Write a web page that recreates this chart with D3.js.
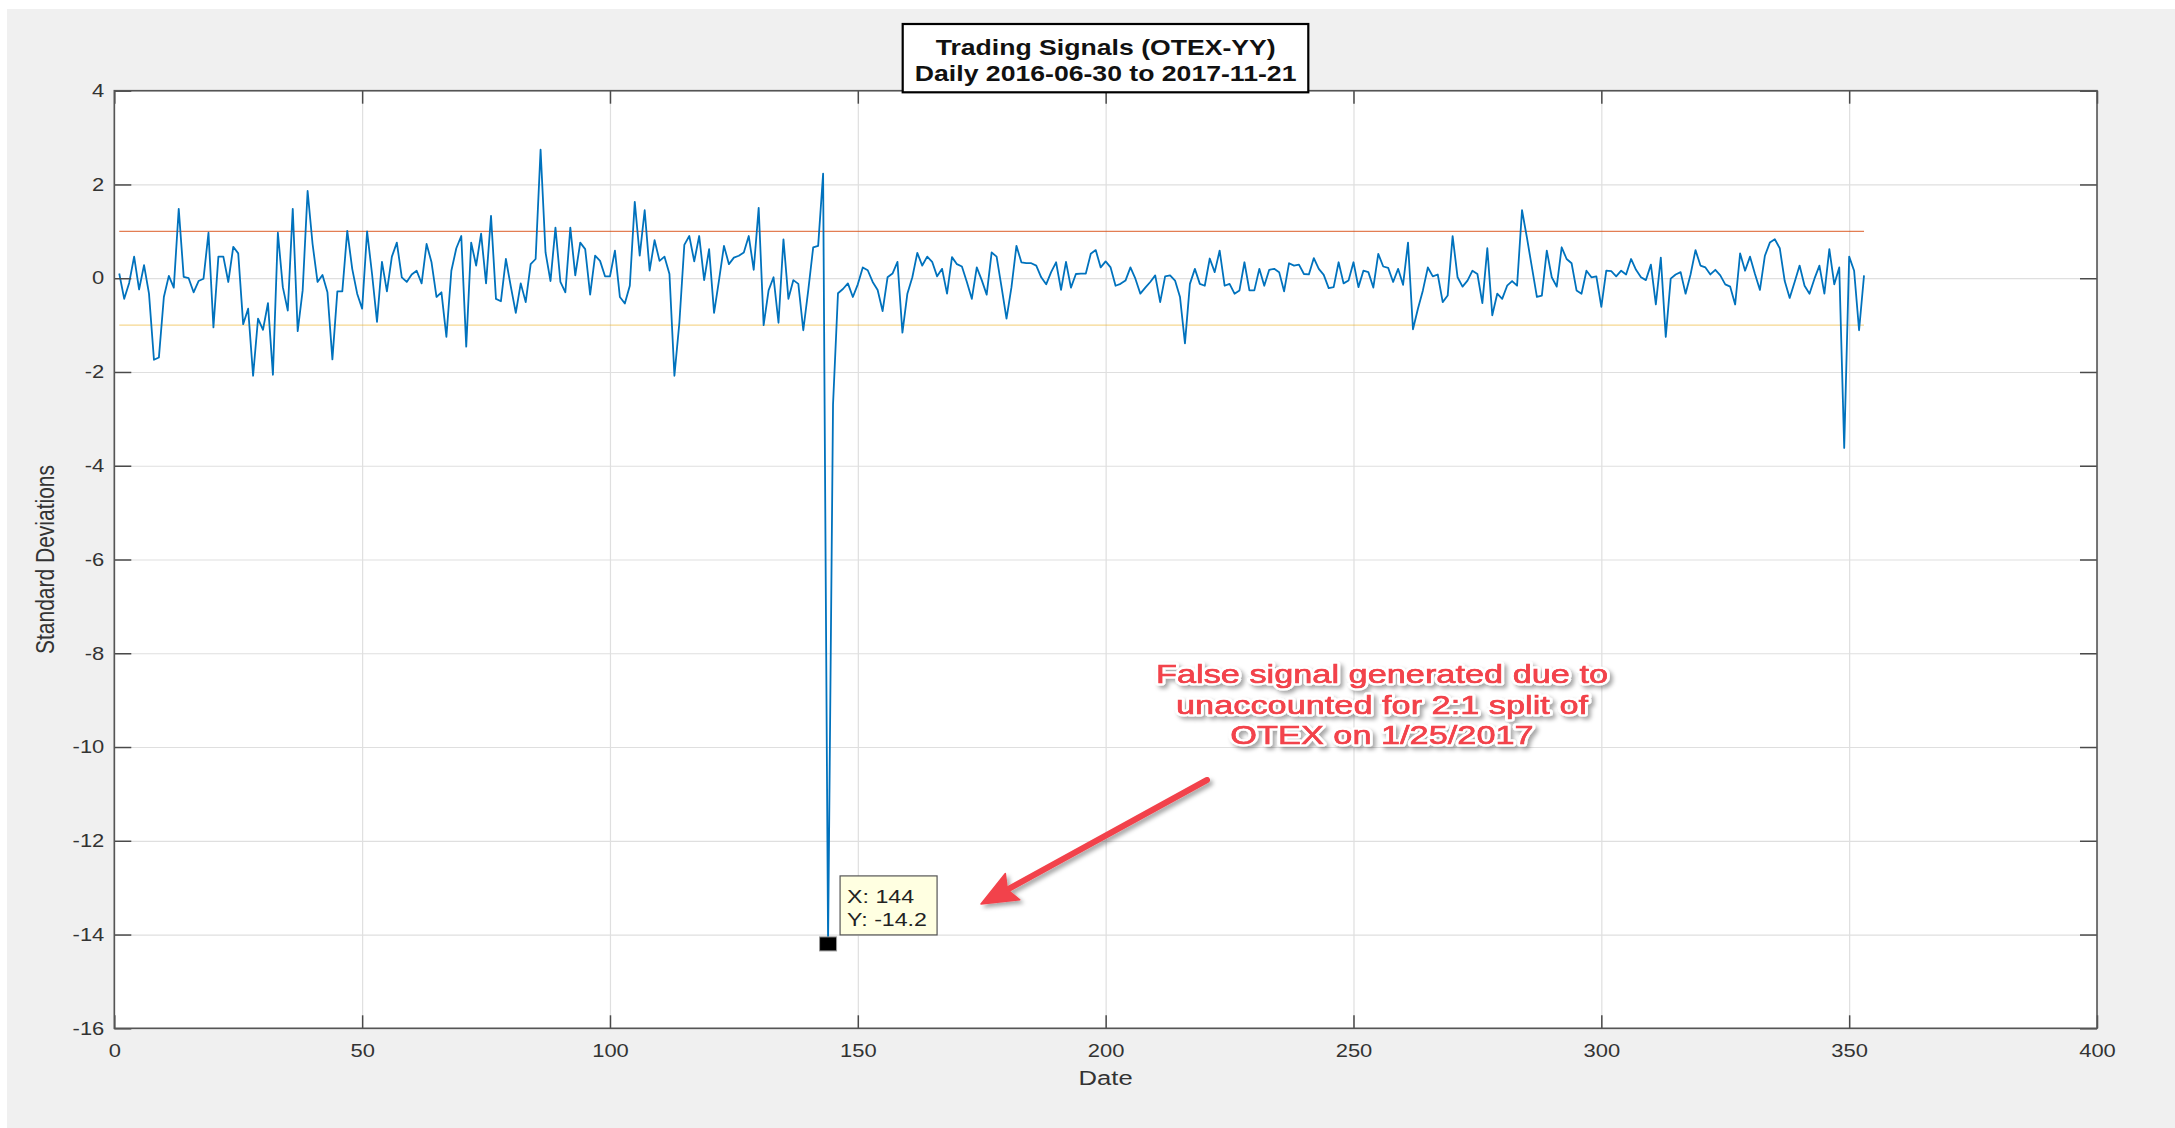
<!DOCTYPE html>
<html>
<head>
<meta charset="utf-8">
<script src="https://d3js.org/d3.v7.min.js"></script>
<style>
  body { margin: 0; background: #ffffff; }
  text { font-family: "Liberation Sans", Arial, Helvetica, sans-serif; }
</style>
</head>
<body>
<script>
// standardized signal, one value per trading day (day 1..353)
var signal = [
  0.10, -0.44, -0.10, 0.46, -0.24, 0.28, -0.33, -1.74, -1.69, -0.40,
  0.05, -0.20, 1.48, 0.03, 0.00, -0.30, -0.06, -0.01, 0.97, -1.05,
  0.46, 0.46, -0.08, 0.67, 0.53, -0.98, -0.65, -2.08, -0.86, -1.10,
  -0.53, -2.06, 0.97, -0.19, -0.69, 1.48, -1.13, -0.26, 1.86, 0.73,
  -0.08, 0.07, -0.30, -1.73, -0.28, -0.28, 1.01, 0.20, -0.33, -0.65,
  1.00, 0.09, -0.93, 0.35, -0.28, 0.46, 0.76, 0.02, -0.08, 0.08,
  0.16, -0.11, 0.73, 0.34, -0.40, -0.30, -1.25, 0.16, 0.64, 0.90,
  -1.46, 0.76, 0.27, 0.95, -0.11, 1.33, -0.44, -0.49, 0.41, -0.18,
  -0.74, -0.11, -0.51, 0.30, 0.41, 2.74, 0.55, -0.06, 1.08, -0.08,
  -0.30, 1.08, 0.06, 0.76, 0.62, -0.35, 0.48, 0.37, 0.04, 0.04,
  0.59, -0.40, -0.54, -0.16, 1.63, 0.48, 1.45, 0.16, 0.81, 0.37,
  0.46, 0.09, -2.08, -0.95, 0.71, 0.90, 0.36, 0.90, -0.04, 0.62,
  -0.74, -0.04, 0.69, 0.30, 0.44, 0.48, 0.55, 0.90, 0.18, 1.50,
  -1.00, -0.26, 0.02, -0.95, 0.83, -0.44, -0.04, -0.12, -1.11, -0.26,
  0.66, 0.69, 2.23, -14.20, -2.70, -0.32, -0.23, -0.11, -0.40, -0.13,
  0.23, 0.17, -0.08, -0.25, -0.70, 0.02, 0.10, 0.35, -1.16, -0.33,
  0.02, 0.54, 0.27, 0.46, 0.35, 0.04, 0.20, -0.33, 0.45, 0.30,
  0.25, -0.08, -0.44, 0.23, -0.04, -0.35, 0.55, 0.46, -0.19, -0.86,
  -0.19, 0.69, 0.34, 0.32, 0.32, 0.27, 0.02, -0.13, 0.13, 0.34,
  -0.25, 0.35, -0.20, 0.09, 0.10, 0.10, 0.52, 0.60, 0.23, 0.36,
  0.23, -0.16, -0.12, -0.05, 0.23, -0.01, -0.33, -0.20, -0.08, 0.06,
  -0.51, 0.04, 0.06, -0.05, -0.40, -1.39, -0.12, 0.20, -0.12, -0.16,
  0.42, 0.13, 0.59, -0.16, -0.12, -0.33, -0.26, 0.34, -0.26, -0.26,
  0.20, -0.16, 0.18, 0.20, 0.13, -0.28, 0.32, 0.27, 0.29, 0.09,
  0.08, 0.43, 0.20, 0.07, -0.21, -0.19, 0.34, -0.11, -0.05, 0.34,
  -0.19, 0.16, 0.13, -0.20, 0.52, 0.25, 0.22, -0.08, 0.20, -0.14,
  0.76, -1.09, -0.65, -0.26, 0.23, 0.04, 0.08, -0.51, -0.37, 0.90,
  0.02, -0.18, -0.05, 0.16, 0.09, -0.53, 0.64, -0.79, -0.33, -0.44,
  -0.16, -0.06, -0.16, 1.45, 0.86, 0.23, -0.40, -0.37, 0.59, 0.02,
  -0.18, 0.66, 0.41, 0.32, -0.26, -0.33, 0.16, 0.02, 0.04, -0.61,
  0.16, 0.15, 0.04, 0.16, 0.08, 0.41, 0.18, 0.02, -0.04, 0.29,
  -0.56, 0.44, -1.25, -0.01, 0.08, 0.13, -0.33, 0.08, 0.60, 0.27,
  0.23, 0.08, 0.18, 0.06, -0.13, -0.18, -0.56, 0.53, 0.16, 0.46,
  0.09, -0.25, 0.48, 0.76, 0.83, 0.64, -0.06, -0.42, -0.08, 0.27,
  -0.16, -0.33, -0.01, 0.27, -0.33, 0.62, -0.13, 0.23, -3.62, 0.46,
  0.16, -1.11, 0.06
];

var thresholds = [1, -1];
var thresholdColors = ["#D95319", "#EDB120"];

var xTicks = [0, 50, 100, 150, 200, 250, 300, 350, 400];
var yTicks = [-16, -14, -12, -10, -8, -6, -4, -2, 0, 2, 4];

var titleLines = ["Trading Signals (OTEX-YY)", "Daily 2016-06-30 to 2017-11-21"];
var noteLines = ["False signal generated due to", "unaccounted for 2:1 split of", "OTEX on 1/25/2017"];
var tipDay = 144;

var width = 2175;
var height = 1128;
var sx = 1.22; // screenshot was stretched sideways

var svg = d3.select("body").append("svg")
  .attr("width", width)
  .attr("height", height);

var defs = svg.append("defs");
var shadow = defs.append("filter").attr("id", "shadow")
  .attr("x", "-10%").attr("y", "-20%").attr("width", "130%").attr("height", "150%");
shadow.append("feDropShadow")
  .attr("dx", 3).attr("dy", 3)
  .attr("stdDeviation", 2)
  .attr("flood-color", "#000")
  .attr("flood-opacity", 0.35);

// grey figure background
svg.append("rect")
  .attr("x", 7).attr("y", 9)
  .attr("width", width - 7).attr("height", height - 9)
  .attr("fill", "#f0f0f0");

var pLeft = 114.3, pRight = 2097, pTop = 90.7, pBottom = 1028.3;

var x = d3.scaleLinear().domain([0, 400]).range([pLeft, pRight]);
var y = d3.scaleLinear().domain([-16, 4]).range([pBottom, pTop]);

svg.append("rect")
  .attr("x", pLeft).attr("y", pTop)
  .attr("width", pRight - pLeft).attr("height", pBottom - pTop)
  .attr("fill", "#ffffff");

// grid
svg.append("g")
  .attr("transform", "translate(0," + pBottom + ")")
  .call(d3.axisBottom(x).tickValues(xTicks).tickSize(-(pBottom - pTop)).tickFormat(""))
  .call(function(g) { g.select(".domain").remove(); })
  .selectAll("line").attr("stroke", "#dfdfdf").attr("stroke-width", 1.2);

svg.append("g")
  .attr("transform", "translate(" + pLeft + ",0)")
  .call(d3.axisLeft(y).tickValues(yTicks).tickSize(-(pRight - pLeft)).tickFormat(""))
  .call(function(g) { g.select(".domain").remove(); })
  .selectAll("line").attr("stroke", "#dfdfdf").attr("stroke-width", 1.2);

// threshold lines
svg.selectAll(".thresh")
  .data(thresholds)
  .enter().append("line")
  .attr("class", "thresh")
  .attr("x1", x(1))
  .attr("x2", x(signal.length))
  .attr("y1", function(d) { return y(d); })
  .attr("y2", function(d) { return y(d); })
  .attr("stroke", function(d, i) { return thresholdColors[i]; })
  .attr("stroke-opacity", function(d, i) { return i == 0 ? 0.75 : 0.5; })
  .attr("stroke-width", 1.3);

var lineFunction = d3.line()
  .x(function(d, i) { return x(i + 1); })
  .y(function(d) { return y(d); });

svg.append("path")
  .attr("d", lineFunction(signal))
  .attr("fill", "none")
  .attr("stroke", "#0072BD")
  .attr("stroke-width", 1.8)
  .attr("stroke-linejoin", "round");

// axes with inward ticks
var tickColor = "#4a4a4a";
var xAxis = svg.append("g")
  .attr("transform", "translate(0," + pBottom + ")")
  .call(d3.axisBottom(x).tickValues(xTicks).tickSize(-13).tickPadding(16)
    .tickFormat(function(d) { return String(d); }));
xAxis.select(".domain").remove();
xAxis.selectAll("line").attr("stroke", tickColor).attr("stroke-width", 1.5);
xAxis.selectAll("text")
  .attr("fill", "#333")
  .style("font-size", "18px")
  .attr("transform", "scale(" + sx + ",1)");

var yAxis = svg.append("g")
  .attr("transform", "translate(" + pLeft + ",0)")
  .call(d3.axisLeft(y).tickValues(yTicks).tickSize(-17).tickPadding(10)
    .tickFormat(function(d) { return String(d); }));
yAxis.select(".domain").remove();
yAxis.selectAll("line").attr("stroke", tickColor).attr("stroke-width", 1.5);
yAxis.selectAll("text")
  .attr("fill", "#333")
  .style("font-size", "18px")
  .attr("x", -10 / sx)
  .attr("transform", "scale(" + sx + ",1)");

var topAxis = svg.append("g")
  .attr("transform", "translate(0," + pTop + ")")
  .call(d3.axisTop(x).tickValues(xTicks).tickSize(-13).tickFormat(""));
topAxis.select(".domain").remove();
topAxis.selectAll("line").attr("stroke", tickColor).attr("stroke-width", 1.5);

var rightAxis = svg.append("g")
  .attr("transform", "translate(" + pRight + ",0)")
  .call(d3.axisRight(y).tickValues(yTicks).tickSize(-17).tickFormat(""));
rightAxis.select(".domain").remove();
rightAxis.selectAll("line").attr("stroke", tickColor).attr("stroke-width", 1.5);

// box
svg.append("rect")
  .attr("x", pLeft).attr("y", pTop)
  .attr("width", pRight - pLeft).attr("height", pBottom - pTop)
  .attr("fill", "none")
  .attr("stroke", "#555")
  .attr("stroke-width", 1.6);

// axis labels
svg.append("text")
  .attr("transform", "translate(" + (pLeft + pRight) / 2 + ",1085) scale(" + sx + ",1)")
  .attr("text-anchor", "middle")
  .style("font-size", "21px")
  .attr("fill", "#333")
  .text("Date");

svg.append("text")
  .attr("transform", "translate(54," + (pTop + pBottom) / 2 + ") scale(" + sx + ",1) rotate(-90)")
  .attr("text-anchor", "middle")
  .style("font-size", "21px")
  .attr("fill", "#333")
  .text("Standard Deviations");

// title box
svg.append("rect")
  .attr("x", 902.7).attr("y", 24)
  .attr("width", 405.6).attr("height", 68.3)
  .attr("fill", "#ffffff")
  .attr("stroke", "#000")
  .attr("stroke-width", 2.2);

svg.selectAll(".title")
  .data(titleLines)
  .enter().append("text")
  .attr("class", "title")
  .attr("transform", function(d, i) {
    return "translate(" + (pLeft + pRight) / 2 + "," + (55 + i * 26) + ") scale(" + (sx - 0.01) + ",1)";
  })
  .attr("text-anchor", "middle")
  .style("font-size", "22px")
  .style("font-weight", "bold")
  .attr("fill", "#111")
  .text(function(d) { return d; });

// data tip
var tipValue = signal[tipDay - 1];
svg.append("rect")
  .attr("x", x(tipDay) + 12).attr("y", y(tipValue) - 68)
  .attr("width", 97).attr("height", 59)
  .attr("fill", "#ffffe1")
  .attr("stroke", "#555")
  .attr("stroke-width", 1.2);

svg.selectAll(".tip")
  .data(["X: " + tipDay, "Y: " + tipValue.toFixed(1)])
  .enter().append("text")
  .attr("class", "tip")
  .attr("transform", function(d, i) {
    return "translate(" + (x(tipDay) + 19) + "," + (y(tipValue) - 41 + i * 23) + ") scale(" + sx + ",1)";
  })
  .style("font-size", "19px")
  .attr("fill", "#222")
  .text(function(d) { return d; });

svg.append("rect")
  .attr("x", x(tipDay) - 8.5).attr("y", y(tipValue) - 7)
  .attr("width", 17).attr("height", 14)
  .attr("fill", "#000")
  .attr("stroke", "#999")
  .attr("stroke-width", 1);

// annotation
var noteColor = "#f2434b";
var note = svg.append("g").attr("filter", "url(#shadow)");

var arrowFrom = [1207, 780], arrowTo = [981, 904];
var ang = Math.atan2(arrowTo[1] - arrowFrom[1], arrowTo[0] - arrowFrom[0]);
var headLen = 36, headW = 15;
var bx = arrowTo[0] - headLen * Math.cos(ang), by = arrowTo[1] - headLen * Math.sin(ang);

note.append("line")
  .attr("x1", arrowFrom[0]).attr("y1", arrowFrom[1])
  .attr("x2", bx + 6 * Math.cos(ang)).attr("y2", by + 6 * Math.sin(ang))
  .attr("stroke", noteColor)
  .attr("stroke-width", 6)
  .attr("stroke-linecap", "round");

note.append("path")
  .attr("d", d3.line()([
    arrowTo,
    [bx - headW * Math.sin(ang), by + headW * Math.cos(ang)],
    [bx + 6 * Math.cos(ang), by + 6 * Math.sin(ang)],
    [bx + headW * Math.sin(ang), by - headW * Math.cos(ang)]
  ]) + "Z")
  .attr("fill", noteColor)
  .attr("stroke", noteColor)
  .attr("stroke-width", 1.5)
  .attr("stroke-linejoin", "round");

var noteText = note.selectAll(".note")
  .data(noteLines)
  .enter().append("text")
  .attr("class", "note")
  .attr("transform", function(d, i) {
    return "translate(1382," + (683 + i * 30.5) + ") scale(1.32,1)";
  })
  .attr("text-anchor", "middle")
  .style("font-size", "26px")
  .attr("fill", noteColor)
  .attr("stroke", "#ffffff")
  .attr("stroke-width", 5)
  .attr("stroke-linejoin", "round")
  .attr("paint-order", "stroke")
  .text(function(d) { return d; });

// second pass gives the letters a heavier look
svg.selectAll(".note2")
  .data(noteLines)
  .enter().append("text")
  .attr("class", "note2")
  .attr("transform", function(d, i) {
    return "translate(1382," + (683 + i * 30.5) + ") scale(1.32,1)";
  })
  .attr("text-anchor", "middle")
  .style("font-size", "26px")
  .attr("fill", noteColor)
  .attr("stroke", noteColor)
  .attr("stroke-width", 0.6)
  .text(function(d) { return d; });
</script>
</body>
</html>
